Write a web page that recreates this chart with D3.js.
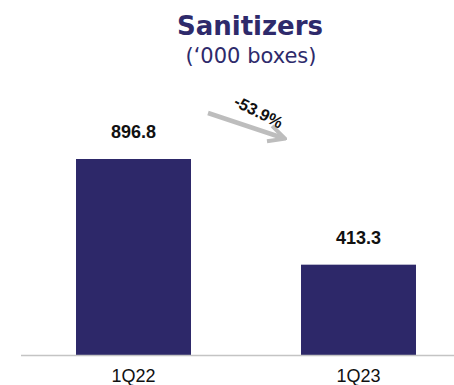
<!DOCTYPE html>
<html>
<head>
<meta charset="utf-8">
<script src="https://cdn.jsdelivr.net/npm/d3@7"></script>
<style>
  html, body { margin: 0; padding: 0; background: #fff; }
  svg { display: block; }
</style>
</head>
<body>
<svg id="chart" width="454" height="385"></svg>
<script>
// Quarterly sanitizer volumes ('000 boxes)
const categories = ["1Q22", "1Q23"];
const values = [896.8, 413.3];
const valueLabels = ["896.8", "413.3"];
const changeLabel = "-53.9%";
const titleText = "Sanitizers";
const subtitleText = "(\u2018000 boxes)";

const svg = d3.select("#chart");
const W = 454, H = 385;
const baseY = 355;
const barColor = "#2d2869";

const x = d3.scaleBand()
  .domain(categories)
  .range([21, 471])
  .paddingInner(0.489)
  .paddingOuter(0.2445);

const y = d3.scaleLinear()
  .domain([0, 896.8])
  .range([baseY, 159]);

// Title block
svg.append("text")
  .attr("x", 250).attr("y", 35)
  .attr("text-anchor", "middle")
  .attr("font-family", "DejaVu Sans, Verdana, sans-serif")
  .attr("font-weight", "bold")
  .attr("font-size", 26)
  .attr("fill", "#2e2a6b")
  .text(titleText);

svg.append("text")
  .attr("x", 251).attr("y", 63)
  .attr("text-anchor", "middle")
  .attr("font-family", "DejaVu Sans, Verdana, sans-serif")
  .attr("font-size", 21)
  .attr("fill", "#2e2a6b")
  .text(subtitleText);

// Bars
svg.selectAll("rect.bar")
  .data(values)
  .join("rect")
  .attr("class", "bar")
  .attr("x", (d, i) => x(categories[i]))
  .attr("width", x.bandwidth())
  .attr("y", d => y(d))
  .attr("height", d => baseY - y(d))
  .attr("fill", barColor);

// Value labels
svg.selectAll("text.val")
  .data(values)
  .join("text")
  .attr("class", "val")
  .attr("x", (d, i) => x(categories[i]) + x.bandwidth() / 2)
  .attr("y", d => y(d) - 21)
  .attr("text-anchor", "middle")
  .attr("font-family", "Liberation Sans, Arial, sans-serif")
  .attr("font-weight", "bold")
  .attr("font-size", 18)
  .attr("fill", "#111")
  .text((d, i) => valueLabels[i]);

// Baseline axis
const axis = svg.append("g")
  .attr("transform", `translate(0,${baseY})`)
  .call(d3.axisBottom(x).tickSize(0).tickPadding(14));
axis.select(".domain").remove();
axis.selectAll("text")
  .attr("font-family", "Liberation Sans, Arial, sans-serif")
  .attr("font-size", 18)
  .attr("fill", "#111");

svg.append("line")
  .attr("x1", 21).attr("x2", W)
  .attr("y1", baseY + 0.5).attr("y2", baseY + 0.5)
  .attr("stroke", "#c4c4c4")
  .attr("stroke-width", 1.5);

// Change arrow between the two bars
const defs = svg.append("defs");
defs.append("marker")
  .attr("id", "arrowHead")
  .attr("viewBox", "0 0 10 10")
  .attr("refX", 8).attr("refY", 5)
  .attr("markerWidth", 4.5).attr("markerHeight", 4.5)
  .attr("orient", "auto")
  .append("path")
  .attr("d", "M1,1 L9,5 L1,9")
  .attr("fill", "none")
  .attr("stroke", "#bdbdbd")
  .attr("stroke-width", 2);

svg.append("line")
  .attr("x1", 208).attr("y1", 113)
  .attr("x2", 283).attr("y2", 138)
  .attr("stroke", "#bdbdbd")
  .attr("stroke-width", 4.5)
  .attr("marker-end", "url(#arrowHead)");

svg.append("text")
  .attr("transform", "translate(256,117) rotate(27)")
  .attr("text-anchor", "middle")
  .attr("font-family", "Liberation Sans, Arial, sans-serif")
  .attr("font-weight", "bold")
  .attr("font-size", 16.5)
  .attr("fill", "#111")
  .text(changeLabel);
</script>
</body>
</html>
